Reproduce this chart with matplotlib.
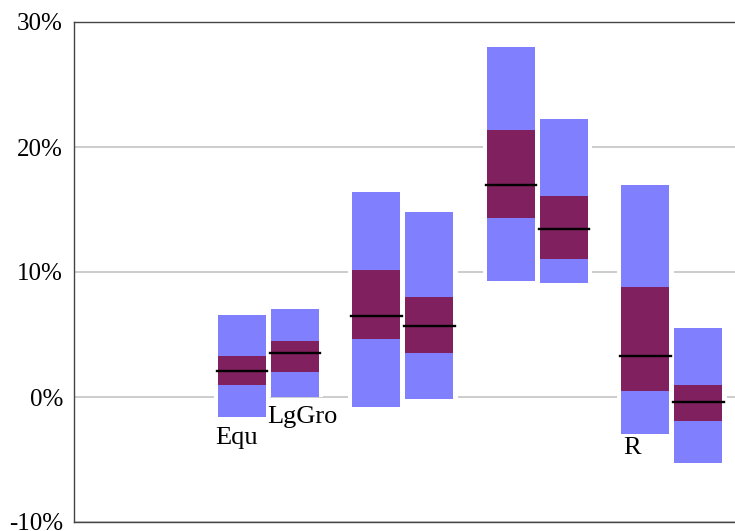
import matplotlib.pyplot as plt
from matplotlib.ticker import FuncFormatter

plt.rcParams['font.family'] = ['Liberation Serif', 'DejaVu Serif']

# values in percent, two boxes per group (group 0 is empty)
group_idx = [1, 1, 2, 2, 3, 3, 4, 4]
side = [-1, 1, -1, 1, -1, 1, -1, 1]
outer_hi = [6.58, 7.06, 16.42, 14.82, 28.02, 22.26, 16.98, 5.54]
outer_lo = [-1.63, 0.0, -0.78, -0.14, 9.26, 9.10, -2.94, -5.26]
inner_hi = [3.30, 4.50, 10.13, 8.02, 21.38, 16.10, 8.82, 0.98]
inner_lo = [0.98, 1.97, 4.66, 3.54, 14.34, 11.06, 0.50, -1.90]
median = [2.10, 3.52, 6.50, 5.70, 17.00, 13.44, 3.28, -0.43]

labels = ['Equ', 'LgGro', 'R']
label_x = [0.602, 0.989, 3.636]
label_y = [-3.74, -2.06, -4.54]

blue = '#8080ff'
maroon = '#80205e'

fig = plt.figure(figsize=(7.35, 5.31), dpi=100)
ax = fig.add_axes([74/735, 9/531, 680/735, 500/531])

w = 0.357
off = 0.197
xs = [g + s*off for g, s in zip(group_idx, side)]

for x, hi, lo, ihi, ilo, med in zip(xs, outer_hi, outer_lo, inner_hi, inner_lo, median):
    # white halo so the grid lines stop short of the boxes
    ax.bar(x, hi - lo, bottom=lo, width=w + 0.06, color='white', zorder=2)
    ax.bar(x, hi - lo, bottom=lo, width=w, color=blue, zorder=3)
    ax.bar(x, ihi - ilo, bottom=ilo, width=w, color=maroon, zorder=4)
    ax.plot([x - w/2 - 0.008, x + w/2 + 0.008], [med, med], color='black', lw=1.7, zorder=5)

for t, x, y in zip(labels, label_x, label_y):
    ax.text(x, y, t, fontsize=19, ha='left', va='baseline', zorder=6)

ax.set_xlim(-0.446, -0.446 + 680/134.5)
ax.set_ylim(-10, 30)
ax.set_yticks([-10, 0, 10, 20, 30])
ax.yaxis.set_major_formatter(FuncFormatter(lambda v, p: '%d%%' % v))
ax.set_xticks([])
ax.tick_params(axis='y', length=0, pad=8, labelsize=18)
ax.grid(axis='y', color='#c8c8c8', lw=1.3, zorder=0)
ax.set_axisbelow(True)
for s in ['left', 'top', 'bottom']:
    ax.spines[s].set_color('#444444')
    ax.spines[s].set_linewidth(1.0)
ax.spines['right'].set_visible(False)

plt.savefig('out.png', dpi=100)
